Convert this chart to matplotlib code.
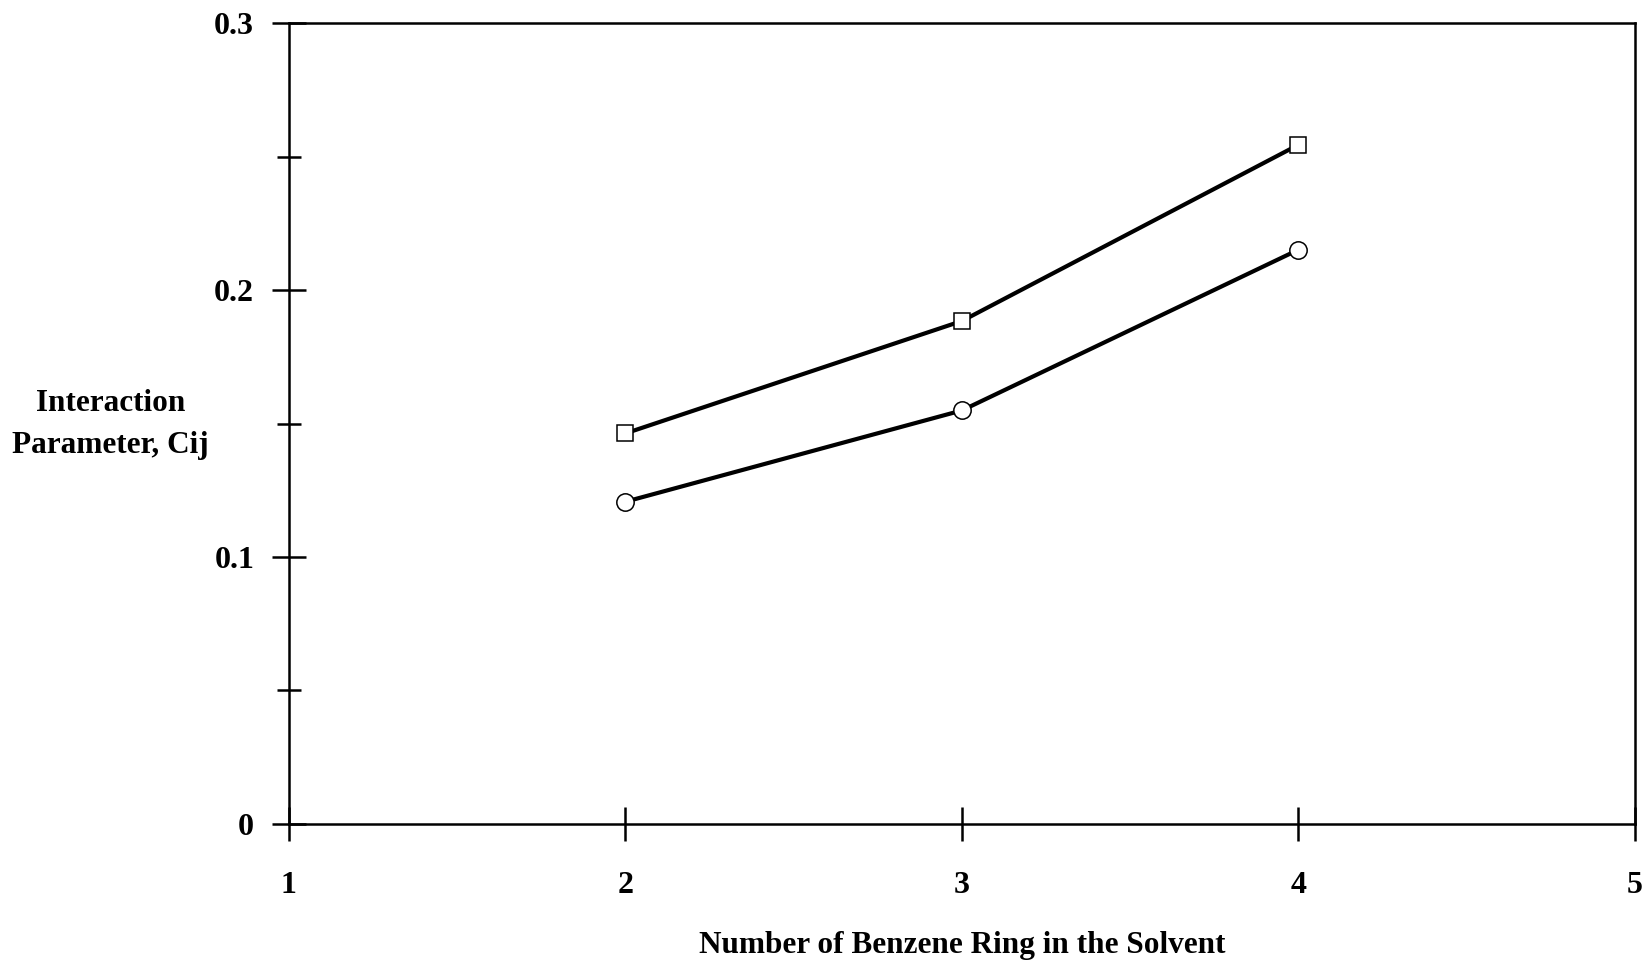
import matplotlib.pyplot as plt
from matplotlib.ticker import MultipleLocator

plt.rcParams["font.family"] = ["Liberation Serif", "DejaVu Serif"]
plt.rcParams["font.weight"] = "bold"

# number of benzene rings in the solvent
rings = [2, 3, 4]
# interaction parameter Cij, two series
cij_square = [0.1463, 0.1884, 0.2544]
cij_circle = [0.1207, 0.1549, 0.2151]

x_ticks = [1, 2, 3, 4, 5]
y_ticks = [0, 0.1, 0.2, 0.3]
y_tick_labels = ["0", "0.1", "0.2", "0.3"]

fig = plt.figure(figsize=(16.46, 9.61), dpi=100)
ax = fig.add_axes([0.1755, 0.1426, 0.8178, 0.8334])

ax.plot(rings, cij_square, color="black", lw=3.0, marker="s", ms=12,
        mfc="white", mec="black", mew=1.1, zorder=3)
ax.plot(rings, cij_circle, color="black", lw=3.0, marker="o", ms=12.5,
        mfc="white", mec="black", mew=1.1, zorder=3)

ax.set_xlim(1, 5)
ax.set_ylim(0, 0.3)
ax.set_xticks(x_ticks)
ax.set_yticks(y_ticks)
ax.set_yticklabels(y_tick_labels)
ax.yaxis.set_minor_locator(MultipleLocator(0.05))

for s in ax.spines.values():
    s.set_linewidth(1.8)

ax.tick_params(axis="both", which="major", direction="inout", length=24,
               width=1.8, labelsize=23)
ax.tick_params(axis="y", which="major", pad=13)
ax.tick_params(axis="x", which="major", pad=22)
ax.tick_params(axis="y", which="minor", direction="inout", length=17, width=1.8)
ax.tick_params(top=False, right=False)
for lab in ax.get_xticklabels() + ax.get_yticklabels():
    lab.set_fontweight("bold")

ax.set_xlabel("Number of Benzene Ring in the Solvent", fontsize=22.5,
              fontweight="bold", labelpad=22)
fig.text(0.067, 0.558, "Interaction\nParameter, Cij", ha="center", va="center",
         fontsize=22.5, fontweight="bold", linespacing=1.6)

fig.savefig("out.png", dpi=100)
